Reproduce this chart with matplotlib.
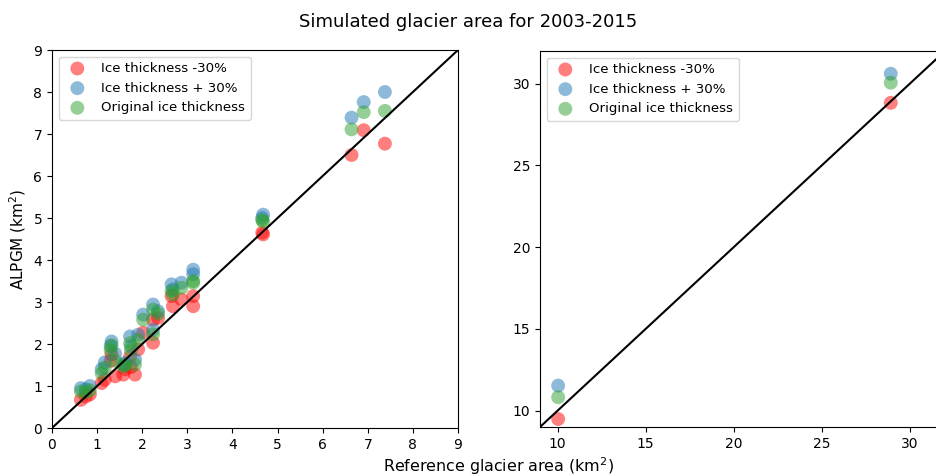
import matplotlib

matplotlib.use("Agg")
import matplotlib.pyplot as plt

# Small glaciers (left panel): reference area and simulated areas, km2
ref_small = [0.64, 0.75, 0.84, 1.10, 1.17, 1.30, 1.32, 1.40, 1.58, 1.62, 1.73, 1.75,
             1.84, 1.91, 2.02, 2.24, 2.24, 2.35, 2.65, 2.68, 2.87, 3.13, 3.13,
             4.66, 4.68, 6.64, 6.91, 7.38]
minus30_small = [0.67, 0.75, 0.80, 1.07, 1.15, 1.60, 1.75, 1.23, 1.27, 1.40, 1.70, 1.45,
                 1.27, 1.87, 2.27, 2.58, 2.03, 2.62, 3.14, 2.90, 3.06, 3.14, 2.90,
                 4.65, 4.61, 6.50, 7.09, 6.77]
plus30_small = [0.95, 0.92, 1.00, 1.40, 1.56, 1.95, 2.06, 1.77, 1.51, 1.55, 2.18, 1.95,
                1.63, 2.22, 2.70, 2.94, 2.34, 2.78, 3.42, 3.30, 3.46, 3.77, 3.66,
                5.00, 5.08, 7.39, 7.76, 8.00]
orig_small = [0.87, 0.85, 0.90, 1.30, 1.44, 1.85, 1.97, 1.60, 1.47, 1.50, 2.02, 1.85,
              1.51, 2.10, 2.58, 2.82, 2.23, 2.72, 3.26, 3.18, 3.34, 3.46, 3.50,
              4.95, 4.92, 7.11, 7.52, 7.55]

# Large glaciers (right panel)
ref_large = [10.03, 28.92]
minus30_large = [9.49, 28.83]
plus30_large = [11.53, 30.61]
orig_large = [10.82, 30.06]

labels = ["Ice thickness -30%", "Ice thickness + 30%", "Original ice thickness"]
colors = ["red", "tab:blue", "tab:green"]

fig = plt.figure(figsize=(9.36, 4.76), dpi=100)
ax1 = fig.add_axes([52 / 936, 48 / 476, 406 / 936, 378 / 476])
ax2 = fig.add_axes([540 / 936, 49 / 476, 405 / 936, 376 / 476])


def panel(ax, x, ys, lim):
    for y, lab, c in zip(ys, labels, colors):
        ax.scatter(x, y, s=100, color=c, alpha=0.5, edgecolors="none", label=lab)
    ax.plot(lim, lim, color="black", lw=1.5)
    ax.set_xlim(lim)
    ax.set_ylim(lim)
    ax.legend(loc="upper left", fontsize=9.6)


panel(ax1, ref_small, [minus30_small, plus30_small, orig_small], [0, 9])
panel(ax2, ref_large, [minus30_large, plus30_large, orig_large], [9, 32])
ax1.set_xticks(range(0, 10))
ax1.set_yticks(range(0, 10))
ax2.set_xticks([10, 15, 20, 25, 30])
ax2.set_yticks([10, 15, 20, 25, 30])

ax1.set_ylabel("ALPGM (km$^2$)", fontsize=11)
fig.text(498 / 936, 10 / 476, "Reference glacier area (km$^2$)", ha="center", va="center", fontsize=11.4)
fig.text(0.5, 1 - 22 / 476, "Simulated glacier area for 2003-2015", ha="center", va="center", fontsize=13)

fig.savefig("out.png", dpi=100)
